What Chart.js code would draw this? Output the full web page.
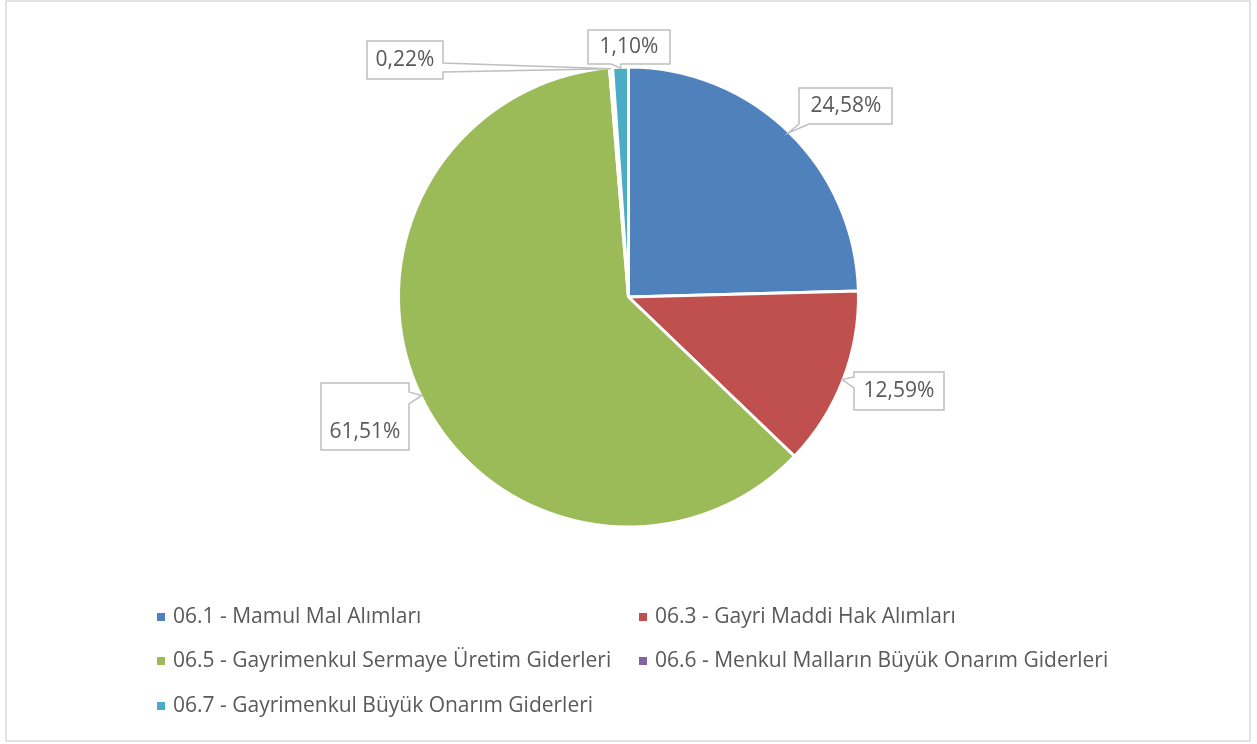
<!DOCTYPE html>
<html>
<head>
<meta charset="utf-8">
<script src="https://cdn.jsdelivr.net/npm/chart.js@4"></script>
<style>
  body { margin: 0; background: #fff; }
  canvas { display: block; }
</style>
</head>
<body>
<canvas id="pie" width="1257" height="744"></canvas>
<script>
// veri
const categories = [
    '06.1 - Mamul Mal Alımları',
    '06.3 - Gayri Maddi Hak Alımları',
    '06.5 - Gayrimenkul Sermaye Üretim Giderleri',
    '06.6 - Menkul Malların Büyük Onarım Giderleri',
    '06.7 - Gayrimenkul Büyük Onarım Giderleri'
];
const shares = [24.58, 12.59, 61.51, 0.22, 1.10];
const colors = ['#4F81BD', '#C0504D', '#9BBB59', '#8064A2', '#4BACC6'];

const FONT = '"Open Sans", sans-serif';
const TEXT_COLOR = '#595959';

// etiket kutuları (x1, y1, x2, y2), kuyruğun çıktığı kenar, metin merkezi
const calloutBoxes = [
    { box: [799, 88, 892, 124], side: 'bottom', base: [799, 809], text: [846, 106] },
    { box: [854, 372, 944, 410], side: 'left', base: [377, 388], text: [899, 391] },
    { box: [321, 383, 409, 450], side: 'right', base: [392, 404], text: [365, 432] },
    { box: [367, 41, 443, 79], side: 'right', base: [63, 72], text: [405, 60] },
    { box: [588, 30, 670, 64], side: 'bottom', base: [611, 621], text: [629, 47] }
];

// lejant yerleşimi
const legendCols = [157, 639];
const legendRows = [617, 661, 706];

function formatPct(v) {
    return v.toFixed(2).replace('.', ',') + '%';
}

function calloutPath(ctx, c, tip) {
    const [x1, y1, x2, y2] = c.box;
    const [b1, b2] = c.base;
    ctx.beginPath();
    ctx.moveTo(x1, y1);
    ctx.lineTo(x2, y1);
    if (c.side === 'right') {
        ctx.lineTo(x2, b1);
        ctx.lineTo(tip.x, tip.y);
        ctx.lineTo(x2, b2);
    }
    ctx.lineTo(x2, y2);
    if (c.side === 'bottom') {
        ctx.lineTo(b2, y2);
        ctx.lineTo(tip.x, tip.y);
        ctx.lineTo(b1, y2);
    }
    ctx.lineTo(x1, y2);
    if (c.side === 'left') {
        ctx.lineTo(x1, b2);
        ctx.lineTo(tip.x, tip.y);
        ctx.lineTo(x1, b1);
    }
    ctx.closePath();
}

const calloutPlugin = {
    id: 'callouts',
    afterDatasetsDraw(chart) {
        const ctx = chart.ctx;
        const arcs = chart.getDatasetMeta(0).data;
        ctx.save();
        arcs.forEach((arc, i) => {
            const c = calloutBoxes[i];
            const mid = (arc.startAngle + arc.endAngle) / 2;
            const tip = {
                x: arc.x + Math.cos(mid) * (arc.outerRadius - 1),
                y: arc.y + Math.sin(mid) * (arc.outerRadius - 1)
            };
            calloutPath(ctx, c, tip);
            ctx.fillStyle = '#fff';
            ctx.fill();
            ctx.lineWidth = 1.5;
            ctx.strokeStyle = '#bfbfbf';
            ctx.lineJoin = 'miter';
            ctx.stroke();
            ctx.fillStyle = TEXT_COLOR;
            ctx.font = '21px ' + FONT;
            ctx.textAlign = 'center';
            ctx.textBaseline = 'middle';
            ctx.fillText(formatPct(shares[i]), c.text[0], c.text[1]);
        });
        ctx.restore();
    }
};

const legendPlugin = {
    id: 'gridLegend',
    afterDraw(chart) {
        const ctx = chart.ctx;
        ctx.save();
        ctx.font = '21px ' + FONT;
        ctx.textAlign = 'left';
        ctx.textBaseline = 'middle';
        chart.data.labels.forEach((label, i) => {
            const x = legendCols[i % 2];
            const y = legendRows[Math.floor(i / 2)];
            ctx.fillStyle = colors[i];
            ctx.fillRect(x, y - 4, 8, 8);
            ctx.fillStyle = TEXT_COLOR;
            ctx.fillText(label, x + 16, y);
        });
        // çerçeve
        ctx.strokeStyle = '#d9d9d9';
        ctx.lineWidth = 1.5;
        ctx.strokeRect(6, 1, 1244, 740);
        ctx.restore();
    }
};

new Chart(document.getElementById('pie'), {
    type: 'pie',
    data: {
        labels: categories,
        datasets: [{
            data: shares,
            backgroundColor: colors,
            borderColor: '#ffffff',
            borderWidth: 3
        }]
    },
    options: {
        responsive: false,
        animation: false,
        radius: 230,
        layout: { padding: { top: 68, bottom: 218, left: 0, right: 0 } },
        plugins: {
            legend: { display: false },
            tooltip: { enabled: false }
        }
    },
    plugins: [calloutPlugin, legendPlugin]
});
</script>
</body>
</html>
